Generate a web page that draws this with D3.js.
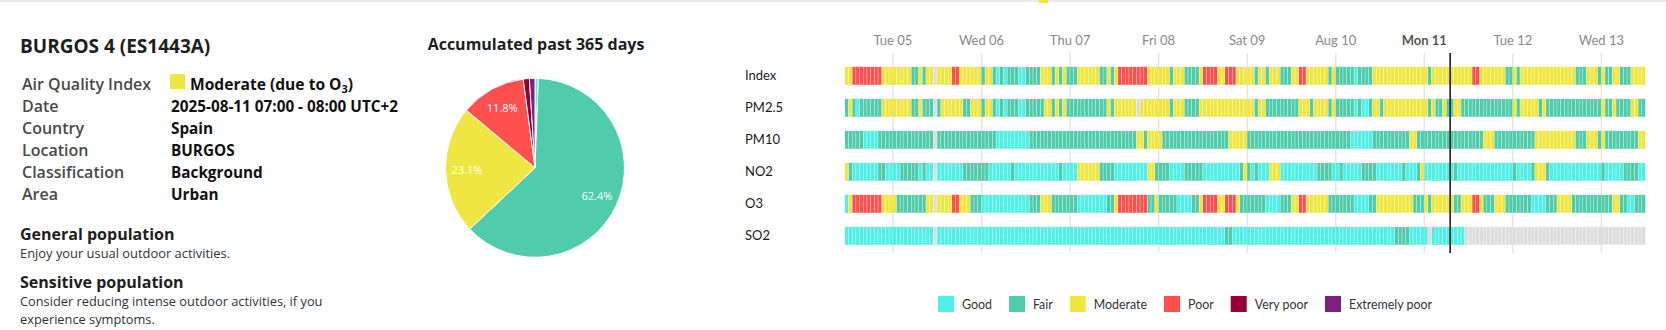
<!DOCTYPE html>
<html>
<head>
<meta charset="utf-8">
<script src="https://cdn.jsdelivr.net/npm/d3@7"></script>
<style>
  html, body { margin: 0; padding: 0; background: #fff; }
  svg { display: block; }
</style>
</head>
<body>
<svg id="chart" width="1666" height="330"></svg>
<script>
// ---------------- DATA ----------------
const levels = ["Good", "Fair", "Moderate", "Poor", "Very poor", "Extremely poor"];
const levelCodes = ["G", "F", "M", "P", "V", "E"];
const levelColors = ["#50F0E6", "#50CCAA", "#F0E641", "#FF5050", "#960032", "#7D2181"];
const noDataColor = "#dddddd";

const rowLabels = ["Index", "PM2.5", "PM10", "NO2", "O3", "SO2"];
const dayTickLabels = ["Tue 05", "Wed 06", "Thu 07", "Fri 08", "Sat 09", "Aug 10", "Mon 11", "Tue 12", "Wed 13"];

// pie: accumulated past 365 days, share (%) per level
const pieShares = [0.6, 62.4, 23.1, 11.8, 1.1, 1.0];

// hourly levels, run-length: letter = level code (N = no data), number = hours
const indexRuns = "M2 P8 M8 F2 M1 F1 M2 N1 M4 P2 M6 F1 M2 F1 G1 F1 G1 F3 G2 F4 M3 F1 M1 F1 M1 F3 M6 F2 M1 F1 M1 P8 M6 F1 M3 F4 M1 P4 M2 P3 M5 F1 M2 F1 M3 F3 M2 P2 M6 F1 M1 F5 G1 F4 M15 F1 M11 P2 M7 F2 M1 F1 M15 F3 M3 F1 M1 F2 M2 F3 M4";
const pm25Runs = "F1 M1 F1 G1 F6 M8 F2 M1 F3 N1 F1 M6 F2 M3 F1 M2 F1 G1 F1 G1 F3 G2 F5 M2 F1 M1 F1 M1 F11 M1 F1 M6 N1 M8 F1 M3 F4 M15 F1 M2 F9 M3 F1 M4 F1 M1 F5 G1 F1 G2 F1 M2 F1 M12 F1 M1 F2 M1 F2 M2 F14 M1 F1 M5 F1 M1 F15 M1 F2 M1 F4 M2 F2";
const pm10Runs = "F5 G4 F15 N1 F16 G9 F29 M2 F1 M4 F18 M5 F28 G6 F10 M2 F18 M3 F11 M11 F3 M3 F1 M1 F9 M2";
const no2Runs = "M1 F1 G7 F2 G4 F5 G1 F1 G2 N1 G7 F7 G6 F1 G12 F1 G4 M6 F4 G9 M2 F4 G4 F5 G10 F1 M1 F1 G1 F1 G3 M3 G10 F4 G2 F1 G5 F4 G7 F1 G3 F1 M1 G8 F1 G15 F1 G4 F1 M3 F1 G14 F1 G5 F4 G2";
const o3Runs = "G1 M1 P8 M4 F8 M2 N1 M4 P2 M3 F3 G13 F3 M3 F7 G8 F2 M1 P8 F2 M1 F5 G4 F2 M1 P4 M2 P3 M1 F7 G4 F3 M2 P2 M6 F7 G4 F2 M10 F3 M1 F1 M6 F2 M3 P2 M1 F3 M3 F7 G4 F3 M4 F11 M2 F2 G2 F3";
const so2Runs = "G24 N1 G78 F2 G44 F4 G5 N1 G9 N49";

const seriesRuns = [indexRuns, pm25Runs, pm10Runs, no2Runs, o3Runs, so2Runs];

// ---------------- HELPERS ----------------
function expandRuns(str) {
  const out = [];
  str.trim().split(/\s+/).forEach(tok => {
    const code = tok[0];
    const n = +tok.slice(1);
    for (let i = 0; i < n; i++) out.push(code);
  });
  return out;
}
function colorOf(code) {
  const i = levelCodes.indexOf(code);
  return i < 0 ? noDataColor : levelColors[i];
}

const svg = d3.select("#chart");
const HOUR = 3600 * 1000;

// top page strip (cropped header of page)
svg.append("rect").attr("x", 0).attr("y", 0).attr("width", 1666).attr("height", 2).attr("fill", "#ececec");
svg.append("rect").attr("x", 1039).attr("y", 0).attr("width", 9).attr("height", 3).attr("fill", "#F0E641");

// ---------------- LEFT PANEL ----------------
const left = svg.append("g").attr("font-family", "'Open Sans', sans-serif");
left.append("text").attr("x", 20).attr("y", 53).attr("font-size", 19).attr("font-weight", 700)
  .attr("fill", "#1e1e1e").text("BURGOS 4 (ES1443A)");

const tableLabels = ["Air Quality Index", "Date", "Country", "Location", "Classification", "Area"];
const tableValues = [null, "2025-08-11 07:00 - 08:00 UTC+2", "Spain", "BURGOS", "Background", "Urban"];
const rowBase = [89.5, 112, 134, 156, 178, 200];
tableLabels.forEach((t, i) => {
  left.append("text").attr("x", 22).attr("y", rowBase[i]).attr("font-size", 16).attr("font-weight", 600)
    .attr("fill", "#4a4a4a").text(t);
  if (tableValues[i]) {
    left.append("text").attr("x", 171).attr("y", rowBase[i]).attr("font-size", 15.3).attr("font-weight", 700)
      .attr("fill", "#111").text(tableValues[i]);
  }
});
left.append("rect").attr("x", 170).attr("y", 74).attr("width", 15).attr("height", 15).attr("fill", levelColors[2]);
const aq = left.append("text").attr("x", 190).attr("y", 89.5).attr("font-size", 15.6).attr("font-weight", 700).attr("fill", "#111");
aq.append("tspan").text("Moderate (due to O");
aq.append("tspan").attr("font-size", 11).attr("dy", 3).text("3");
aq.append("tspan").attr("dy", -3).text(")");

left.append("text").attr("x", 20).attr("y", 239.5).attr("font-size", 16).attr("font-weight", 700)
  .attr("fill", "#1e1e1e").text("General population");
left.append("text").attr("x", 20).attr("y", 257.5).attr("font-size", 12.9)
  .attr("fill", "#333").text("Enjoy your usual outdoor activities.");
left.append("text").attr("x", 20).attr("y", 287.5).attr("font-size", 16).attr("font-weight", 700)
  .attr("fill", "#1e1e1e").text("Sensitive population");
left.append("text").attr("x", 20).attr("y", 305.5).attr("font-size", 12.8)
  .attr("fill", "#333").text("Consider reducing intense outdoor activities, if you");
left.append("text").attr("x", 20).attr("y", 323.5).attr("font-size", 12.8)
  .attr("fill", "#333").text("experience symptoms.");

// ---------------- PIE ----------------
const pieG = svg.append("g").attr("transform", "translate(535,167.8)");
svg.append("text").attr("x", 536).attr("y", 50).attr("text-anchor", "middle")
  .attr("font-family", "'Open Sans', sans-serif").attr("font-size", 16).attr("font-weight", 700)
  .attr("fill", "#1e1e1e").text("Accumulated past 365 days");

const pieData = levels.map((l, i) => ({ level: l, value: pieShares[i], color: levelColors[i] }));
const pie = d3.pie().sort(null).value(d => d.value);
const R = 89.5;
const arc = d3.arc().innerRadius(0).outerRadius(R);
const labelArc = d3.arc().innerRadius(68).outerRadius(68);
const arcs = pie(pieData);
pieG.selectAll("path").data(arcs).join("path")
  .attr("d", arc).attr("fill", d => d.data.color)
  .attr("stroke", "#fff").attr("stroke-width", 1).attr("stroke-linejoin", "round");
pieG.selectAll("text").data(arcs.filter(d => d.data.value > 5)).join("text")
  .attr("transform", d => `translate(${labelArc.centroid(d)})`)
  .attr("text-anchor", "middle").attr("dy", "0.35em")
  .attr("font-family", "'Open Sans', sans-serif").attr("font-size", 11)
  .attr("fill", "#fff").text(d => d.data.value.toFixed(1) + "%");

// ---------------- HEATMAP ----------------
const start = Date.UTC(2025, 7, 4, 11);
const nHours = 217;
const end = start + nHours * HOUR;
const x = d3.scaleUtc().domain([start, end]).range([845, 1645.7]);
const y = d3.scalePoint().domain(rowLabels).range([75.8, 235.8]);
const cellH = 18;

const hm = svg.append("g").attr("font-family", "Lato, sans-serif");

// day gridlines + labels
const days = d3.utcDay.range(Date.UTC(2025, 7, 5), Date.UTC(2025, 7, 14));
hm.selectAll("line.grid").data(days).join("line").attr("class", "grid")
  .attr("x1", d => x(d)).attr("x2", d => x(d)).attr("y1", 53).attr("y2", 253)
  .attr("stroke", "#e6e6e6").attr("stroke-width", 1.5);
hm.selectAll("text.tick").data(days).join("text").attr("class", "tick")
  .attr("x", d => x(d)).attr("y", 44.5).attr("text-anchor", "middle")
  .attr("font-size", 13)
  .attr("font-weight", (d, i) => dayTickLabels[i] === "Mon 11" ? 700 : 400)
  .attr("fill", (d, i) => dayTickLabels[i] === "Mon 11" ? "#555" : "#8a8a8a")
  .text((d, i) => dayTickLabels[i]);

// row labels
hm.selectAll("text.row").data(rowLabels).join("text").attr("class", "row")
  .attr("x", 745).attr("y", d => y(d)).attr("dy", "0.35em")
  .attr("font-size", 13).attr("fill", "#1a1a1a").text(d => d);

// cells
const hourW = x(start + HOUR) - x(start);
seriesRuns.forEach((runs, r) => {
  const codes = expandRuns(runs);
  const cells = codes.map((c, i) => ({ t: start + i * HOUR, c }));
  hm.append("g").selectAll("rect").data(cells).join("rect")
    .attr("x", d => x(d.t))
    .attr("y", y(rowLabels[r]) - cellH / 2)
    .attr("width", hourW - 0.4)
    .attr("height", cellH)
    .attr("fill", d => colorOf(d.c));
});

// current time marker
const now = Date.UTC(2025, 7, 11, 7);
hm.append("line").attr("x1", x(now)).attr("x2", x(now)).attr("y1", 53).attr("y2", 253)
  .attr("stroke", "#111").attr("stroke-width", 1.5);

// legend
const legend = hm.append("g");
let lx = 938;
levels.forEach((l, i) => {
  legend.append("rect").attr("x", lx).attr("y", 296).attr("width", 16).attr("height", 16).attr("fill", levelColors[i]);
  const t = legend.append("text").attr("x", lx + 24).attr("y", 308.5).attr("font-size", 12.4).attr("fill", "#333").text(l);
  lx += 24 + t.node().getComputedTextLength() + 17;
});
</script>
</body>
</html>
